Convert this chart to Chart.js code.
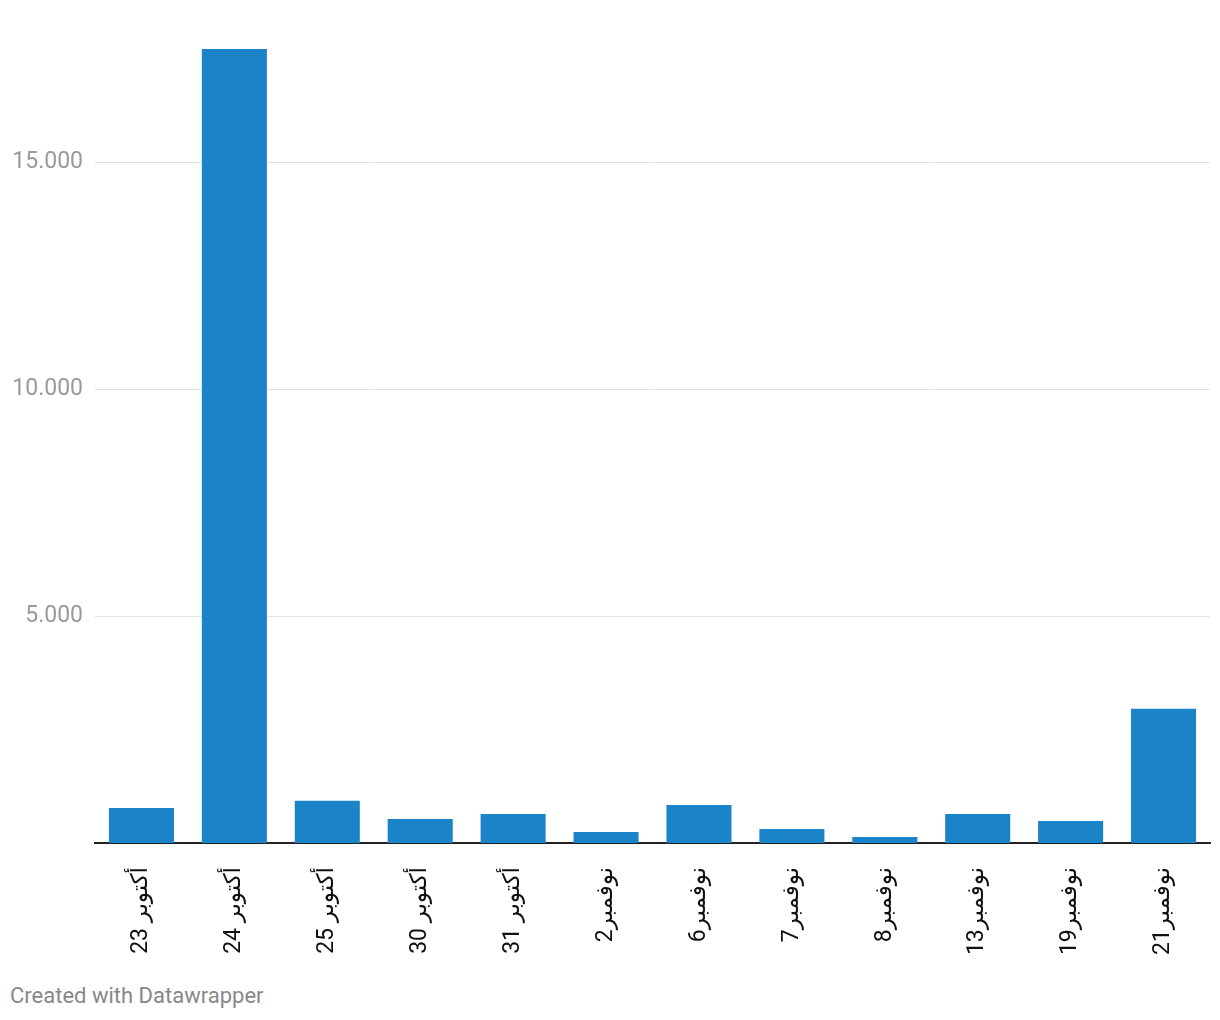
<!DOCTYPE html>
<html>
<head>
<meta charset="utf-8">
<script src="https://cdn.jsdelivr.net/npm/chart.js@4.4.0/dist/chart.umd.min.js"></script>
<style>
  body { margin: 0; background: #fff; font-family: Roboto, 'Noto Sans', sans-serif; }
  #wrap { position: relative; width: 1220px; height: 970px; }
  .credit { position: absolute; left: 10px; top: 983px; font-size: 22px; color: #888; }
</style>
</head>
<body>
<div id="wrap"><canvas id="myChart"></canvas></div>
<div class="credit">Created with Datawrapper</div>
<script>
// .......... les données ..........
const categories = ['23 أكتوبر', '24 أكتوبر', '25 أكتوبر', '30 أكتوبر', '31 أكتوبر',
    'نوفمبر2', 'نوفمبر6', 'نوفمبر7', 'نوفمبر8', 'نوفمبر13', 'نوفمبر19', 'نوفمبر21'];
const values = [770, 17500, 930, 530, 640, 245, 840, 310, 130, 640, 485, 2960];
const yTicks = [5000, 10000, 15000];
const yMax = 17500;

function formatNum(v){
    return String(v).replace(/\B(?=(\d{3})+(?!\d))/g, '.');
}

// .......... le graph ..........
const ctx = document.getElementById('myChart').getContext('2d');
const chart = new Chart(ctx, {
    type: 'bar',
    data: {
        labels: categories,
        datasets: [{
            data: values,
            backgroundColor: '#1b83c7',
            barPercentage: 0.7,
            categoryPercentage: 1
        }]
    },
    options: {
        responsive: true,
        maintainAspectRatio: false,
        animation: false,
        layout: { padding: { top: 49, right: 10, left: 0, bottom: 0 } },
        plugins: { legend: { display: false }, tooltip: { enabled: false } },
        scales: {
            x: {
                grid: { display: false, drawTicks: false },
                border: { display: true, color: '#222', width: 2 },
                ticks: {
                    minRotation: 90, maxRotation: 90, autoSkip: false,
                    padding: 24,
                    color: '#111',
                    font: { size: 23, family: "Roboto, 'DejaVu Sans', sans-serif" }
                },
                afterFit: function(axis){ axis.height = 127; }
            },
            y: {
                min: 0, max: yMax,
                grid: { color: '#e2e2e2', lineWidth: 1, drawTicks: false },
                border: { display: false },
                ticks: {
                    padding: 12,
                    color: '#9a9a9a',
                    font: { size: 23, family: 'Roboto' },
                    callback: v => formatNum(v)
                },
                afterBuildTicks: function(axis){
                    axis.ticks = yTicks.map(v => ({ value: v }));
                },
                afterFit: function(axis){ axis.width = 95; }
            }
        }
    }
});
</script>
</body>
</html>
